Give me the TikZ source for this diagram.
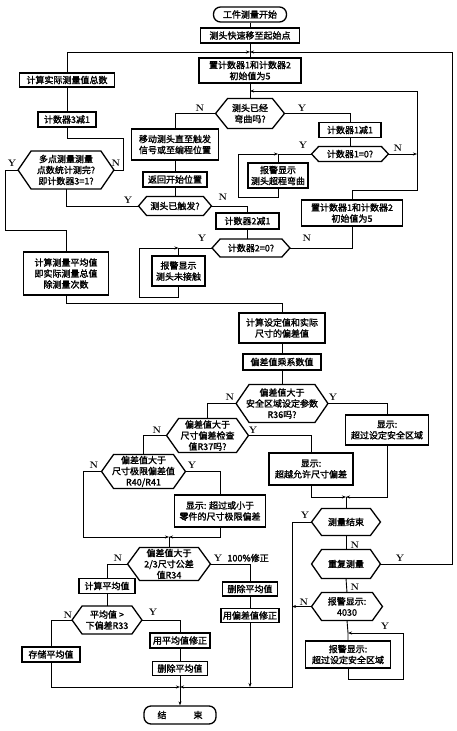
\documentclass[tikz,border=0pt]{standalone}
\usepackage{fontspec}
\newfontfamily\cjk{Noto Sans CJK SC}[FakeBold=1.6]
\usetikzlibrary{arrows.meta}
\begin{document}
\begin{tikzpicture}[x=1pt,y=-1pt,line width=0.9pt,
  base/.style={font=\cjk\fontsize{9}{11}\selectfont,align=center,inner sep=0pt},
  box/.style={base,draw,line width=1.3pt},
  hex/.style={base},
  term/.style={base,draw,line width=1.3pt,rounded corners=7pt},
  lab/.style={font=\bfseries\fontsize{9.5}{10}\selectfont,inner sep=0pt},
  jar/.style={-{Stealth[length=4pt,width=3pt]}}]
\useasboundingbox (0,0) rectangle (457,731);
% ---------- nodes ----------
\node[term,minimum width=73pt,minimum height=15pt] (start) at (250,14.5) {工件测量开始};
\node[box,minimum width=99pt,minimum height=15pt] (n1) at (250,35.5) {测头快速移至起始点};
\node[box,minimum width=102pt,minimum height=25pt] (n2) at (250,70.5) {置计数器1和计数器2\\初始值为5};
\node[box,minimum width=95pt,minimum height=14pt] (n3) at (67,80) {计算实际测量值总数};
\node[box,minimum width=58pt,minimum height=15pt] (n4) at (67,119.5) {计数器3减1};
\node[hex,minimum width=68pt,minimum height=29pt] (d1) at (250,113.5) {测头已经\\弯曲吗?};
\node[box,minimum width=62pt,minimum height=15pt] (n5) at (350,130) {计数器1减1};
\node[box,minimum width=87pt,minimum height=31pt] (n6) at (175,144.5) {移动测头直至触发\\信号或至编程位置};
\node[hex,minimum width=76pt,minimum height=14pt] (d2) at (350,154) {计数器1=0?};
\node[hex,minimum width=95pt,minimum height=37pt] (d3) at (66,170) {多点测量测量\\点数统计测完?\\即计数器3=1?};
\node[box,minimum width=60pt,minimum height=25pt] (n7) at (278,175.5) {报警显示\\测头超程弯曲};
\node[box,minimum width=64pt,minimum height=15pt] (n8) at (175,179.5) {返回开始位置};
\node[hex,minimum width=72pt,minimum height=18pt] (d4) at (175,206) {测头已触发?};
\node[box,minimum width=63pt,minimum height=16pt] (n9) at (247.5,221) {计数器2减1};
\node[box,minimum width=101pt,minimum height=26pt] (n10) at (352,213) {置计数器1和计数器2\\初始值为5};
\node[hex,minimum width=77pt,minimum height=17pt] (d5) at (251,248) {计数器2=0?};
\node[box,minimum width=53pt,minimum height=30pt] (n11) at (178.5,271) {报警显示\\测头未接触};
\node[box,minimum width=85pt,minimum height=43pt] (n12) at (66,273.5) {计算测量平均值\\即实际测量总值\\除测量次数};
\node[box,minimum width=86pt,minimum height=30pt] (n13) at (282,328) {计算设定值和实际\\尺寸的偏差值};
\node[box,minimum width=78pt,minimum height=16pt] (n14) at (282,362) {偏差值乘系数值};
\node[hex,minimum width=91pt,minimum height=37pt] (d6) at (282,403.5) {偏差值大于\\安全区域设定参数\\R36吗?};
\node[hex,minimum width=81pt,minimum height=33pt] (d7) at (207.5,435.5) {偏差值大于\\尺寸偏差检查\\值R37吗?};
\node[box,minimum width=83pt,minimum height=30pt] (n15) at (387,430) {显示:\\超过设定安全区域};
\node[hex,minimum width=83pt,minimum height=33pt] (d8) at (143.5,471.5) {偏差值大于\\尺寸极限偏差值\\R40/R41};
\node[box,minimum width=84pt,minimum height=32pt] (n16) at (311,469) {显示:\\超越允许尺寸偏差};
\node[box,minimum width=91pt,minimum height=32pt] (n17) at (220,511) {显示: 超过或小于\\零件的尺寸极限偏差};
\node[hex,minimum width=68pt,minimum height=26pt] (d9) at (346,522) {测量结束};
\node[hex,minimum width=82pt,minimum height=32pt] (d10) at (169,564) {偏差值大于\\2/3尺寸公差\\值R34};
\node[hex,minimum width=68pt,minimum height=28pt] (d11) at (346,564) {重复测量};
\node[box,minimum width=56pt,minimum height=15pt] (n18) at (107,586) {计算平均值};
\node[box,minimum width=55pt,minimum height=14pt] (n19) at (250,589) {删除平均值};
\node[hex,minimum width=70pt,minimum height=27pt] (d12) at (347,606.5) {报警显示:\\4030};
\node[hex,minimum width=69pt,minimum height=27pt] (d13) at (107,620) {平均值 >\\下偏差R33};
\node[box,minimum width=58pt,minimum height=14pt] (n20) at (250,615.5) {用偏差值修正};
\node[box,minimum width=58pt,minimum height=15pt] (n21) at (51,654.5) {存储平均值};
\node[box,minimum width=60pt,minimum height=15pt] (n22) at (180,640.5) {用平均值修正};
\node[box,minimum width=85pt,minimum height=27pt] (n23) at (348,654.5) {报警显示:\\超过设定安全区域};
\node[box,minimum width=55pt,minimum height=14pt] (n24) at (180,668.5) {删除平均值};
\node[term,minimum width=72pt,minimum height=18pt] (stop) at (180,715) {结\hspace{3em}束};
% hexagon outlines
\foreach \n/\s in {d1/12,d2/7,d3/13,d4/8,d5/8,d6/13,d7/12,d8/12,d9/10,d10/12,d11/10,d12/10,d13/10}
  \draw[line width=1.3pt] (\n.west) -- ([xshift=\s pt]\n.north west) -- ([xshift=-\s pt]\n.north east)
     -- (\n.east) -- ([xshift=-\s pt]\n.south east) -- ([xshift=\s pt]\n.south west) -- cycle;
% junction coordinates
\coordinate (j1) at (250,52);
\coordinate (j2) at (250,91);
\coordinate (j3) at (282,303);
\coordinate (j4) at (169,537);
\coordinate (j5) at (346,497);
\coordinate (j6) at (180,687);
\coordinate (j7) at (348,633);
% ---------- connectors ----------
\draw (start.south) -- (n1.north);
\draw (n1.south) -- (n2.north);
\draw[jar] (n3.north) |- (j1);
\draw[jar] (d11.east) -| (452,52) -- (j1);
\draw (n2.south) -- (d1.north);
\draw[jar] (n10.north) |- (417,190) -- (417,91) -- (j2);
\draw[jar] (d2.east) -- (417,154);
\draw (d1.west) -| (n6.north);
\draw (d1.east) -| (n5.north);
\draw (n5.south) -- (d2.north);
\draw (d2.west) -- (n7.north |- d2.west) -- (n7.north);
\draw[jar] (n7.south) -- ++(0,9) -| (238,154) -- (n7.north |- d2.west);
\draw (n6.south) -- (n8.north);
\draw (n8.south) -- (d4.north);
\draw (d4.west) -| (d3.south);
\draw (d3.east) -| (123,138) -| (n4.south);
\draw (n4.north) -- (n3.south);
\draw (d3.west) -| (5,230) -| (n12.north);
\draw (d4.east) -| (n9.north);
\draw (n9.south) -- (n9.south |- d5.north);
\draw (d5.west) -- (n11.north |- d5.west) -- (n11.north);
\draw[jar] (n11.south) -- ++(0,11) -| (139,248) -- (n11.north |- d5.west);
\draw (d5.east) -| (n10.south);
\draw (n12.south) |- (j3) -- (n13.north);
\draw (n13.south) -- (n14.north);
\draw (n14.south) -- (d6.north);
\draw (d6.west) -| (d7.north);
\draw (d6.east) -| (n15.north);
\draw (d7.west) -| (d8.north);
\draw (d7.east) -| (n16.north);
\draw (d8.east) -| (n17.north);
\draw[jar] (d8.west) -| (83,537) -- (j4);
\draw[jar] (n17.south) |- (j4);
\draw (j4) -- (d10.north);
\draw[jar] (n16.south) |- (j5);
\draw[jar] (n15.south) |- (j5);
\draw (j5) -- (d9.north);
\draw (d9.south) -- (d11.north);
\draw (d11.south) -- (d12.north);
\draw[jar] (d9.west) -| (292,687) -- (j6);
\draw[jar] (d12.west) -- (292,606.5);
\draw (d12.south) -- (j7) -- (n23.north);
\draw[jar] (n23.south) -- ++(0,11) -| (403,633) -- (j7);
\draw (d10.west) -| (n18.north);
\draw (d10.east) -| (n19.north);
\draw (n18.south) -- (d13.north);
\draw (d13.west) -| (n21.north);
\draw[jar] (n21.south) |- (j6);
\draw (d13.east) -| (n22.north);
\draw (n22.south) -- (n24.north);
\draw[jar] (n24.south) -- (stop.north);
\draw (n19.south) -- (n20.north);
\draw[jar] (n20.south) -- (n20.south |- j6);
% ---------- labels ----------
\node[lab] (l1) at (200,108) {N};
\node[lab] (l2) at (302,108) {Y};
\node[lab] (l3) at (303,145) {Y};
\node[lab] (l4) at (398,148) {N};
\node[lab] (l5) at (12,163) {Y};
\node[lab] (l6) at (116,163) {N};
\node[lab] (l7) at (128,200) {Y};
\node[lab] (l8) at (223,197) {N};
\node[lab] (l9) at (202,238) {Y};
\node[lab] (l10) at (307,238) {N};
\node[lab] (l11) at (230,397) {N};
\node[lab] (l12) at (333,397) {Y};
\node[lab] (l13) at (157,430) {N};
\node[lab] (l14) at (253,430) {Y};
\node[lab] (l15) at (94,465) {N};
\node[lab] (l16) at (192,465) {Y};
\node[lab] (l17) at (305,515) {Y};
\node[lab] (l18) at (355,545) {N};
\node[lab] (l19) at (118,558) {N};
\node[lab] (l20) at (218,558) {Y};
\node[base,anchor=west] (l21) at (227,558) {100\%修正};
\node[lab] (l22) at (400,558) {Y};
\node[lab] (l23) at (355,587) {N};
\node[lab] (l24) at (304,602) {N};
\node[lab] (l25) at (385,626) {Y};
\node[lab] (l26) at (68,615) {N};
\node[lab] (l27) at (153,612) {Y};
\end{tikzpicture}
\end{document}
